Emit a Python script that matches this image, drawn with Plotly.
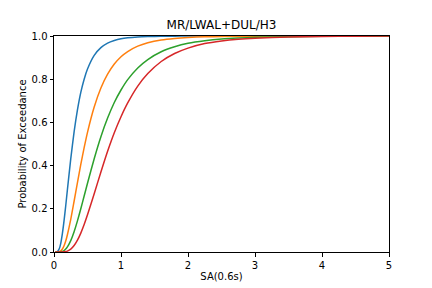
import plotly.graph_objects as go

sa = [0.02, 0.05, 0.08, 0.1, 0.125, 0.15, 0.175, 0.2, 0.25, 0.3, 0.35, 0.4, 0.45, 0.5,
      0.6, 0.7, 0.8, 0.9, 1.0, 1.1, 1.25, 1.4, 1.6, 1.8, 2.0, 2.25, 2.5, 2.75, 3.0,
      3.5, 4.0, 4.5, 5.0]

poe_blue = [0.0, 0.0015, 0.016, 0.039, 0.085, 0.145, 0.214, 0.288, 0.431, 0.556, 0.658,
            0.739, 0.800, 0.847, 0.910, 0.946, 0.967, 0.979, 0.987, 0.9916, 0.9955,
            0.9974, 0.9988, 0.9994, 0.9997, 0.9999, 1.0, 1.0, 1.0, 1.0, 1.0, 1.0, 1.0]

poe_orange = [0.0, 0.0001, 0.0016, 0.005, 0.014, 0.029, 0.051, 0.080, 0.151, 0.235,
              0.321, 0.406, 0.483, 0.554, 0.671, 0.759, 0.823, 0.870, 0.904, 0.928,
              0.953, 0.969, 0.982, 0.989, 0.9932, 0.9962, 0.9978, 0.9987, 0.9992,
              0.9997, 0.9999, 1.0, 1.0]

poe_green = [0.0, 0.0, 0.0002, 0.0009, 0.0028, 0.0068, 0.0135, 0.0234, 0.0526, 0.0937,
             0.144, 0.200, 0.259, 0.318, 0.432, 0.534, 0.620, 0.692, 0.750, 0.798,
             0.852, 0.891, 0.927, 0.950, 0.966, 0.978, 0.986, 0.9907, 0.9937, 0.997,
             0.9985, 0.9992, 0.9996]

poe_red = [0.0, 0.0, 0.0, 0.0, 0.0002, 0.0008, 0.002, 0.0043, 0.0133, 0.0298, 0.0547,
           0.0876, 0.127, 0.172, 0.270, 0.370, 0.466, 0.552, 0.626, 0.690, 0.768,
           0.826, 0.882, 0.919, 0.944, 0.965, 0.977, 0.985, 0.990, 0.9956, 0.9979,
           0.999, 0.9995]

series = [poe_blue, poe_orange, poe_green, poe_red]
colors = ["#1f77b4", "#ff7f0e", "#2ca02c", "#d62728"]

x_ticks = [0, 1, 2, 3, 4, 5]
y_ticks = [0.0, 0.2, 0.4, 0.6, 0.8, 1.0]
y_tick_labels = ["0.0", "0.2", "0.4", "0.6", "0.8", "1.0"]

fig = go.Figure()
for ys, c in zip(series, colors):
    fig.add_trace(go.Scatter(x=sa, y=ys, mode="lines",
                             line=dict(color=c, width=1.5, shape="spline", smoothing=0.6),
                             showlegend=False, hoverinfo="skip", cliponaxis=True))

font = "DejaVu Sans, sans-serif"
axis_common = dict(showline=True, linecolor="black", linewidth=1, mirror=True,
                   ticks="outside", ticklen=3.5, tickwidth=1, tickcolor="black",
                   showgrid=False, zeroline=False, automargin=False,
                   tickfont=dict(family=font, size=10, color="black"))

fig.update_layout(
    width=432, height=288,
    margin=dict(l=54, r=43, t=36, b=36, autoexpand=False),
    paper_bgcolor="white", plot_bgcolor="white",
    title=dict(text="MR/LWAL+DUL/H3", x=0.5, xref="paper", xanchor="center",
               y=1 - 25 / 288, yref="container", yanchor="middle",
               font=dict(family=font, size=12, color="black")),
    xaxis=dict(range=[0, 5], tickvals=x_ticks, ticktext=[str(v) for v in x_ticks],
               title=dict(text="SA(0.6s)", standoff=3, font=dict(family=font, size=10, color="black")),
               **axis_common),
    yaxis=dict(range=[0, 1], tickvals=y_ticks, ticktext=y_tick_labels,
               title=dict(text="Probability of Exceedance", standoff=3, font=dict(family=font, size=10, color="black")),
               **axis_common),
)

fig.write_html("out.html")
